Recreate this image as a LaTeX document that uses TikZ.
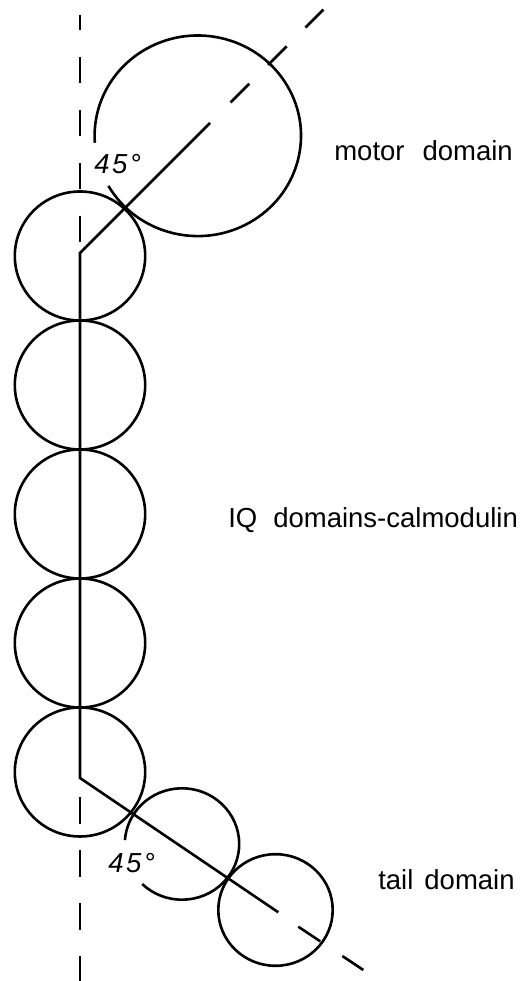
\documentclass[tikz,border=0pt]{standalone}
\usepackage{fontspec}
\setmainfont{Liberation Sans}
\begin{document}
\begin{tikzpicture}[x=1pt,y=1pt,line width=2.6pt,
  dashline/.style={dash pattern=on 26.4pt off 26.5pt},
  lbl/.style={anchor=base west,inner sep=0pt,font=\fontsize{27.5}{32}\selectfont},
  ang/.style={anchor=base west,inner sep=0pt,font=\itshape\fontsize{27.5}{30}\selectfont}]
\useasboundingbox (0,0) rectangle (520,981);
% reference coordinates
\coordinate (vtop) at (80,966);
\coordinate (vbot) at (80,0);
\coordinate (kt) at (80,728);
\coordinate (kb) at (80,203);
\coordinate (ts) at (210,858);
\coordinate (td1) at (230.6,878.6);
\coordinate (td2) at (323.4,971.4);
\coordinate (bs) at (278.3,68.7);
\coordinate (bd1) at (298.3,54.3);
\coordinate (bd2) at (363.3,11);
% vertical dashed axis
\draw[dashline,dash phase=11pt] (vtop) -- (vbot);
% IQ domain circles
\foreach \cy in {725,596,467,338,209}
  \draw (80,\cy) ellipse [x radius=65.2,y radius=64.5];
% motor domain (open circle)
\draw (108.43,795.05) arc [start angle=210,end angle=544,x radius=103.2,y radius=100.3];
% tail domain circles
\draw (142.26,96.93) arc [start angle=226,end angle=536,x radius=57.2,y radius=55.7];
\draw (275.5,71) ellipse [x radius=57.2,y radius=55.8];
% backbone
\draw (ts) -- (kt) -- (kb) -- (bs);
\draw[dashline] (td1) -- (td2);
\draw[dashline] (bd1) -- (bd2);
% labels
\node[lbl] (motor) at (333,820) {motor\hspace{18pt}domain};
\node[lbl] (iq) at (227,453) {IQ\hspace{16pt}domains-calmodulin};
\node[lbl] (tail) at (377,91) {tail\hspace{11pt}domain};
\node[ang] (a1) at (93,807) {4\kern2.5pt5\kern2.5pt°};
\node[ang] (a2) at (107,108) {4\kern2.5pt5\kern2.5pt°};
\end{tikzpicture}
\end{document}
